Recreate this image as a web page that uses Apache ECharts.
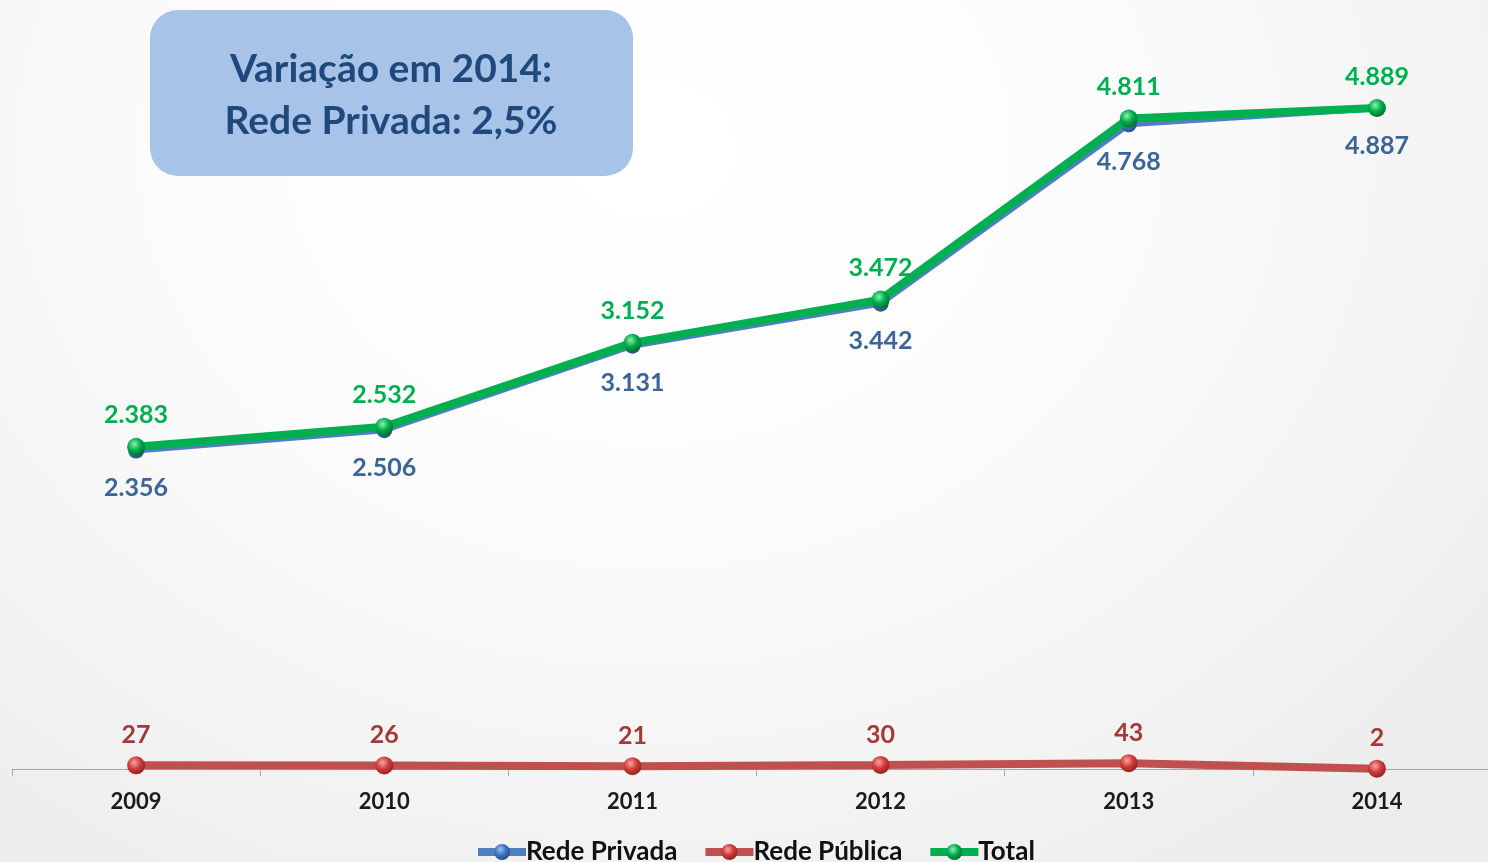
<!DOCTYPE html>
<html><head><meta charset="utf-8">
<script src="https://cdn.jsdelivr.net/npm/echarts@6/dist/echarts.min.js"></script>
<style>
html,body{margin:0;padding:0;overflow:hidden;width:1488px;height:862px;}
#wrap{width:1488px;height:862px;overflow:hidden;background:radial-gradient(ellipse 1100px 900px at 650px 150px,#ffffff 0%,#fbfbfb 45%,#ececec 100%);}
#c{width:1501px;height:862px;}
</style></head><body><div id="wrap"><div id="c"></div></div>
<script>
const categories = ['2009','2010','2011','2012','2013','2014'];
const redePrivada = [2356, 2506, 3131, 3442, 4768, 4887];
const redePublica = [27, 26, 21, 30, 43, 2];
const total = [2383, 2532, 3152, 3472, 4811, 4889];
const seriesNames = ['Rede Privada', 'Rede Pública', 'Total'];
const boxLines = ['Variação em 2014:', 'Rede Privada: 2,5%'];

const FONT = 'Lato, "Open Sans", sans-serif';
function fmt(v){ return String(v).replace(/\B(?=(\d{3})+(?!\d))/g, '.'); }
function ball(c1, c2, c3){
  return {type:'radial', x:0.4, y:0.35, r:0.7, colorStops:[{offset:0,color:c1},{offset:0.5,color:c2},{offset:1,color:c3}]};
}
const chart = echarts.init(document.getElementById('c'), null, {renderer:'canvas'});
chart.setOption({
  animation:false,
  grid:{left:12, right:0, top:93, bottom:93, containLabel:false},
  xAxis:{type:'category', data:categories, boundaryGap:true,
    axisLine:{lineStyle:{color:'#a6a6a6', width:1}},
    axisTick:{show:true, length:7, lineStyle:{color:'#a6a6a6'}},
    axisLabel:{color:'#1a1a1a', fontFamily:FONT, fontWeight:'bold', fontSize:22, margin:22}
  },
  yAxis:{type:'value', min:0, max:5000, show:false, splitLine:{show:false}},
  legend:{left:469, top:834, itemGap:24, itemWidth:48, itemHeight:20,
    lineStyle:{width:8},
    textStyle:{fontFamily:FONT, fontWeight:'bold', fontSize:26, color:'#111', padding:[0,0,0,-5]},
    data:seriesNames},
  graphic:[{type:'rect', left:150, top:10, shape:{width:483, height:166, r:28},
      style:{fill:'#a7c3e8'}},
    {type:'text', position:[391, 69], style:{text:boxLines[0], fill:'#1f497d', font:'bold 39px '+FONT, textAlign:'center', textVerticalAlign:'middle'}},
    {type:'text', position:[391, 121], style:{text:boxLines[1], fill:'#1f497d', font:'bold 39px '+FONT, textAlign:'center', textVerticalAlign:'middle'}}
  ],
  series:[
    {name:seriesNames[0], type:'line', data:redePrivada, z:2,
      symbol:'circle', symbolSize:16,
      lineStyle:{color:'#4f7fc0', width:6},
      itemStyle:{color:ball('#9cc2f0','#3f74be','#22497f')},
      label:{show:true, position:'bottom', distance:17, formatter:p=>fmt(p.value),
        color:'#3b6497', fontFamily:FONT, fontWeight:'bold', fontSize:25}},
    {name:seriesNames[1], type:'line', data:redePublica, z:3,
      symbol:'circle', symbolSize:18,
      lineStyle:{color:'#c0504d', width:8},
      itemStyle:{color:ball('#f7a6a4','#d03c39','#8c1f1d')},
      label:{show:true, position:'top', distance:9, formatter:p=>fmt(p.value),
        color:'#a33a38', fontFamily:FONT, fontWeight:'bold', fontSize:25}},
    {name:seriesNames[2], type:'line', data:total, z:4,
      symbol:'circle', symbolSize:18,
      lineStyle:{color:'#00b050', width:8},
      itemStyle:{color:ball('#8ef0b0','#00ad4c','#006b2c')},
      label:{show:true, position:'top', distance:10, formatter:p=>fmt(p.value),
        color:'#00b050', fontFamily:FONT, fontWeight:'bold', fontSize:25}}
  ]
});
</script></body></html>
